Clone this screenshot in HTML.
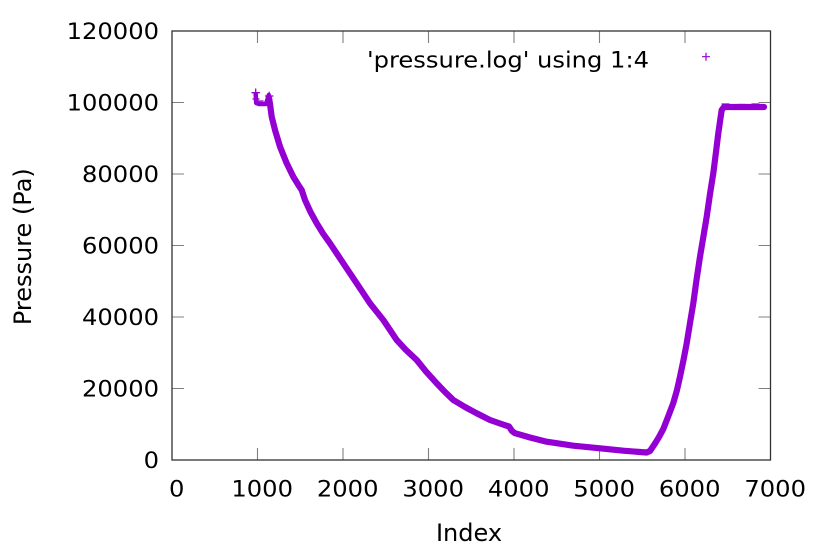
<!DOCTYPE html>
<html>
<head>
<meta charset="utf-8">
<style>
html,body{margin:0;padding:0;background:#fff;}
svg{display:block;}
text{font-family:"DejaVu Sans","Liberation Sans",sans-serif;fill:#000;}
</style>
</head>
<body>
<svg width="816" height="552" viewBox="0 0 816 552" xmlns="http://www.w3.org/2000/svg">
<rect width="816" height="552" fill="#fff"/>

<!-- ticks -->
<g stroke="#808080" stroke-width="1.1" fill="none">
  <path d="M257.5,460v-12M343,460v-12M428.5,460v-12M514,460v-12M599.5,460v-12M685,460v-12
           M257.5,31v12M343,31v12M428.5,31v12M514,31v12M599.5,31v12M685,31v12"/>
  <path d="M172,388.5h12M172,317h12M172,245.5h12M172,174h12M172,102.5h12
           M770.5,388.5h-12M770.5,317h-12M770.5,245.5h-12M770.5,174h-12M770.5,102.5h-12"/>
</g>

<!-- data -->
<g stroke="#9400d3" fill="none" stroke-linejoin="round" stroke-linecap="round">
  <path stroke-width="4.5" d="M255.7,94 L256.2,103 L259,104 L266,104 L268.8,95"/>
  <path stroke-width="1.3" d="M252,92.7h7.4M255.7,89v7.4M265.5,96h7.4M269.2,92.3v7.4M253,99h6M257,101h6"/>
  <path stroke-width="6.2" d="M269,98 L270,104 L271.7,116.7 L275,130 L280,146.7 L286.7,163.3 L293.3,176.7 L299,186 L301.7,190 L305,200 L310.5,212 L316.7,223.3 L323,233.5 L330,243.3 L343.3,263.3 L356.7,283.3 L370,303.3 L376.5,311.5 L383.3,320 L390,330 L396.7,340 L406,350 L416.7,360 L426,371.5 L436.7,383.3 L445,392 L453.3,400 L465,407 L476.7,413.3 L490,420 L500,423.5 L509,426.5 L512,431 L515,433.2 L530,437.5 L546.7,441.7 L573.3,445.7 L600,448.3 L623.3,450.7 L640,452 L646.5,452.5 L650,451 L655,443.5 L659,437 L663.3,429 L668,417 L673.3,403 L677,390 L680,376.7 L683.5,360 L686.7,343.3 L690,323 L693.3,303.3 L696.5,280 L700,256.7 L703.5,236 L706.7,216.7 L710,194 L713.3,173.3 L716,152 L718.3,133.3 L720.5,118 L721.7,110 L724,107 L764,107"/>
  <path stroke-width="1.2" d="M722,104h7M738,104.5h7M752,104h7"/>
</g>

<!-- border -->
<rect x="172" y="31" width="598.5" height="429" fill="none" stroke="#333" stroke-width="1.3"/>

<!-- y tick labels -->
<g font-size="22" text-anchor="end">
  <text x="159" y="39" textLength="92.4" lengthAdjust="spacingAndGlyphs">120000</text>
  <text x="159" y="110.5" textLength="92.4" lengthAdjust="spacingAndGlyphs">100000</text>
  <text x="159" y="182" textLength="77" lengthAdjust="spacingAndGlyphs">80000</text>
  <text x="159" y="253.5" textLength="77" lengthAdjust="spacingAndGlyphs">60000</text>
  <text x="159" y="325" textLength="77" lengthAdjust="spacingAndGlyphs">40000</text>
  <text x="159" y="396.5" textLength="77" lengthAdjust="spacingAndGlyphs">20000</text>
  <text x="159" y="468" textLength="15.4" lengthAdjust="spacingAndGlyphs">0</text>
</g>

<!-- x tick labels -->
<g font-size="22" text-anchor="middle">
  <text x="176.7" y="496.5" textLength="15.4" lengthAdjust="spacingAndGlyphs">0</text>
  <text x="262.2" y="496.5" textLength="61.6" lengthAdjust="spacingAndGlyphs">1000</text>
  <text x="347.7" y="496.5" textLength="61.6" lengthAdjust="spacingAndGlyphs">2000</text>
  <text x="433.2" y="496.5" textLength="61.6" lengthAdjust="spacingAndGlyphs">3000</text>
  <text x="518.7" y="496.5" textLength="61.6" lengthAdjust="spacingAndGlyphs">4000</text>
  <text x="604.2" y="496.5" textLength="61.6" lengthAdjust="spacingAndGlyphs">5000</text>
  <text x="689.7" y="496.5" textLength="61.6" lengthAdjust="spacingAndGlyphs">6000</text>
  <text x="775.2" y="496.5" textLength="61.6" lengthAdjust="spacingAndGlyphs">7000</text>
</g>

<!-- axis labels -->
<text x="469" y="541" font-size="24" text-anchor="middle">Index</text>
<text x="31" y="246.7" font-size="24" text-anchor="middle" transform="rotate(-90 31 246.7)">Pressure (Pa)</text>

<!-- legend -->
<text x="367" y="67.3" font-size="22.5" textLength="282" lengthAdjust="spacingAndGlyphs">'pressure.log' using 1:4</text>
<path d="M702,56.7h8M706,52.7v8" stroke="#9400d3" stroke-width="1.2" fill="none"/>
</svg>
</body>
</html>
